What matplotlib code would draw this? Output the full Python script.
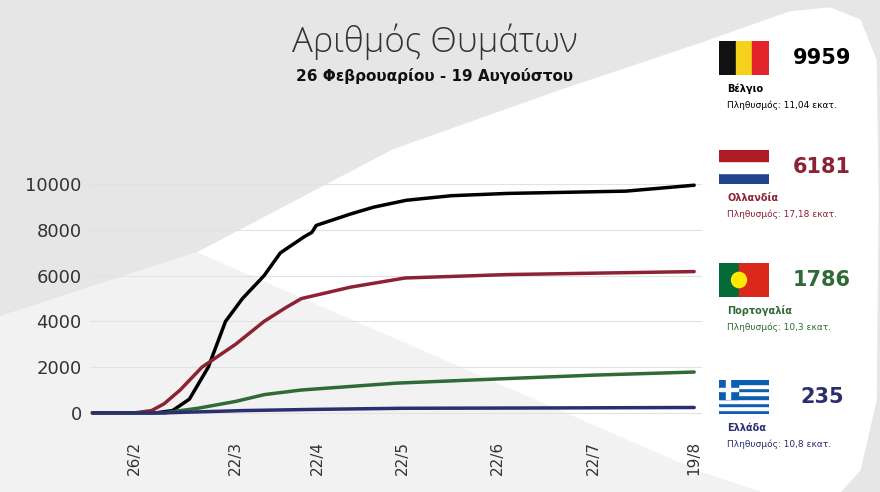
import matplotlib
matplotlib.use("Agg")
import matplotlib.pyplot as plt
import numpy as np
from matplotlib.patches import Polygon, Rectangle, Circle

# day-of-year values
bel_x = [44, 57, 62, 66, 70, 74.5, 78.6, 83.6, 91.8, 98, 107, 110, 111.6, 123.8, 132, 143.4, 158, 176, 212, 231]
bel_y = [0, 0, 0, 100, 600, 2000, 4000, 5000, 6000, 7000, 7700, 7900, 8200, 8700, 9000, 9300, 9500, 9600, 9700, 9959]
ned_x = [44, 57, 61, 64, 67.8, 73, 81, 91.8, 100, 106, 123.8, 143, 176, 231]
ned_y = [0, 0, 100, 400, 1000, 2000, 3000, 4000, 4600, 5000, 5500, 5900, 6050, 6181]
por_x = [44, 64, 72, 81, 92, 106, 140, 176, 203, 231]
por_y = [0, 0, 200, 500, 800, 1000, 1300, 1500, 1650, 1786]
gre_x = [44, 64, 84, 110, 142, 190, 231]
gre_y = [0, 0, 100, 150, 200, 215, 235]
tick_days = [57, 81, 112, 142, 173, 203, 231]
tick_labels = ["26/2", "22/3", "22/4", "22/5", "22/6", "22/7", "19/8"]
countries = ["Βέλγιο", "Ολλανδία", "Πορτογαλία", "Ελλάδα"]
totals = [9959, 6181, 1786, 235]
pops = ["Πληθυσμός: 11,04 εκατ.", "Πληθυσμός: 17,18 εκατ.", "Πληθυσμός: 10,3 εκατ.", "Πληθυσμός: 10,8 εκατ."]
colors = ["#000000", "#8c2233", "#2e6b35", "#2b2f70"]

# uneven category-like spacing of the original axis
scale_days = [40, 44, 57, 81, 112, 142, 173, 203, 231, 240]
scale_pos = [80.7, 93, 135, 235, 316, 400, 495, 590, 690, 718]
fwd = lambda d: np.interp(d, scale_days, scale_pos)
inv = lambda p: np.interp(p, scale_pos, scale_days)

W, H = 880, 492
fig = plt.figure(figsize=(8.8, 4.92), dpi=100)
bg = fig.add_axes([0, 0, 1, 1])
bg.set_xlim(0, W); bg.set_ylim(H, 0); bg.axis("off")
bg.add_patch(Rectangle((0, 0), W, H, color="#e6e6e7"))
white = [(0, 317), (197, 253), (393, 150), (562, 90), (702, 43), (790, 12), (830, 8), (860, 20), (876, 60),
         (878, 200), (876, 400), (860, 470), (840, 492), (0, 492)]
bg.add_patch(Polygon(white, color="white"))
bg.add_patch(Polygon([(0, 317), (197, 253), (702, 473), (760, 492), (0, 492)], color="#f2f2f3"))

ax = fig.add_axes([90/W, 1-430/H, (702-90)/W, (430-150)/H])
ax.patch.set_alpha(0)
ax.set_xscale("function", functions=(fwd, inv))
for xs, ys, c in zip([bel_x, ned_x, por_x, gre_x], [bel_y, ned_y, por_y, gre_y], colors):
    ax.plot(xs, ys, color=c, lw=2.5, solid_capstyle="round")
ax.set_xlim(43.2, 233.5)
ax.set_ylim(-750, 11500)
ax.set_yticks([0, 2000, 4000, 6000, 8000, 10000])
ax.tick_params(axis="y", length=0, labelsize=13, colors="#333333", pad=6)
ax.set_xticks(tick_days)
ax.set_xticks([], minor=True)
ax.set_xticklabels(tick_labels, rotation=90, fontsize=11, color="#333333")
ax.tick_params(axis="x", length=0, pad=8)
ax.grid(axis="y", color="#e2e2e2", lw=0.8)
ax.grid(axis="x", visible=False)
for s in ["top", "right", "left", "bottom"]:
    ax.spines[s].set_visible(False)

fig.text(435/W, 1-42/H, "Αριθμός Θυμάτων", ha="center", va="center", fontsize=25, color="#333333", family="Open Sans", fontweight="light")
fig.text(435/W, 1-76/H, "26 Φεβρουαρίου - 19 Αυγούστου", ha="center", va="center", fontsize=11, fontweight="bold", color="#111111")

flag_y = [58, 167, 280, 397]
def flag(y, kind):
    fa = fig.add_axes([719/W, 1-(y+17)/H, 50/W, 34/H]); fa.set_xlim(0, 3); fa.set_ylim(0, 2); fa.axis("off")
    if kind == 0:
        for i, c in enumerate(["#111111", "#f5d11c", "#e3242b"]):
            fa.add_patch(Rectangle((i, 0), 1, 2, color=c))
    elif kind == 1:
        for i, c in enumerate(["#21468b", "#ffffff", "#ae1c28"]):
            fa.add_patch(Rectangle((0, i*2/3), 3, 2/3, color=c))
    elif kind == 2:
        fa.add_patch(Rectangle((0, 0), 1.2, 2, color="#046a38"))
        fa.add_patch(Rectangle((1.2, 0), 1.8, 2, color="#da291c"))
        fa.add_patch(Circle((1.2, 1), 0.45, color="#ffe900"))
    else:
        for i in range(9):
            fa.add_patch(Rectangle((0, i*2/9), 3, 2/9, color="#0d5eaf" if i % 2 == 0 else "white"))
        fa.add_patch(Rectangle((0, 2-10/9), 10/9, 10/9, color="#0d5eaf"))
        fa.add_patch(Rectangle((0, 2-6/9), 10/9, 2/9, color="white"))
        fa.add_patch(Rectangle((4/9, 2-10/9), 2/9, 10/9, color="white"))
    return fa

for i in range(4):
    y = flag_y[i]
    flag(y, i)
    fig.text(822/W, 1-y/H, str(totals[i]), ha="center", va="center", fontsize=15, fontweight="bold", color=colors[i])
    fig.text(727/W, 1-(y+31)/H, countries[i], ha="left", va="center", fontsize=7, fontweight="bold", color=colors[i])
    fig.text(727/W, 1-(y+47)/H, pops[i], ha="left", va="center", fontsize=6.5, color=colors[i])

fig.savefig("out.png", dpi=100)
